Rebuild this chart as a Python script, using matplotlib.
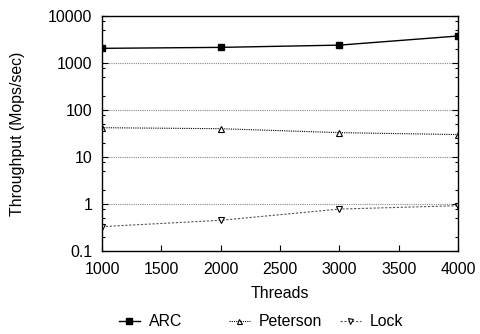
import matplotlib
matplotlib.use("Agg")
import matplotlib.pyplot as plt
from matplotlib.ticker import LogLocator, NullFormatter

plt.rcParams['font.family'] = ['Liberation Sans', 'DejaVu Sans']

# data
threads = [1000, 2000, 3000, 4000]
arc = [2050, 2150, 2400, 3750]
peterson = [42, 40, 33, 30]
lock = [0.33, 0.45, 0.78, 0.92]

xticks = [1000, 1500, 2000, 2500, 3000, 3500, 4000]
yticks = [0.1, 1, 10, 100, 1000, 10000]
ylabels = ["0.1", "1", "10", "100", "1000", "10000"]

fontsize = 11.4
W, H = 481, 334

fig = plt.figure(figsize=(W / 100, H / 100), dpi=100)
ax = fig.add_axes([102 / W, 1 - 251 / H, 356 / W, 235 / H])

l_arc, = ax.plot(threads, arc, color="black", lw=1.0, marker="s", ms=5,
                 markerfacecolor="black", label="ARC")
l_pet, = ax.plot(threads, peterson, color="black", lw=0.8, ls=(0, (1, 1)),
                 marker="^", ms=4, markerfacecolor="white",
                 markeredgewidth=0.8, label="Peterson")
l_lock, = ax.plot(threads, lock, color="#555555", lw=0.8, ls=(0, (2, 1.5)),
                  marker="v", ms=4, markerfacecolor="white",
                  markeredgecolor="black", markeredgewidth=0.8, label="Lock")

ax.set_yscale("log")
ax.set_xlim(1000, 4000)
ax.set_ylim(0.1, 10000)
ax.set_xticks(xticks)
ax.set_yticks(yticks)
ax.set_yticklabels(ylabels)
ax.yaxis.set_minor_locator(LogLocator(base=10, subs=(2, 5, 8)))
ax.yaxis.set_minor_formatter(NullFormatter())

for yv in yticks[1:-1]:
    ax.axhline(yv, color="#888888", lw=0.8, ls=(0, (1, 1)), zorder=0)

ax.tick_params(axis="both", which="both", direction="in", labelsize=fontsize,
               right=True, top=False, width=0.8)
ax.tick_params(axis="both", which="major", length=4)
ax.tick_params(axis="y", which="minor", length=2)
ax.tick_params(axis="y", which="major", pad=7)
ax.tick_params(axis="x", which="major", pad=8)
for s in ax.spines.values():
    s.set_linewidth(1.0)

fig.text(18 / W, 1 - 133.5 / H, "Throughput (Mops/sec)", rotation=90,
         ha="center", va="center", fontsize=fontsize)
fig.text(280 / W, 1 - 293 / H, "Threads", ha="center", va="center",
         fontsize=fontsize)

# legend entries placed one by one, like the fixed columns of the original
for handle, x0 in [(l_arc, 119), (l_pet, 229), (l_lock, 340)]:
    fig.legend([handle], [handle.get_label()], loc="center left",
               bbox_to_anchor=(x0 / W, 1 - 322 / H), frameon=False,
               fontsize=fontsize, handlelength=1.3, handletextpad=0.6,
               borderpad=0, borderaxespad=0, markerscale=0.9)

fig.savefig("out.png", dpi=100)
